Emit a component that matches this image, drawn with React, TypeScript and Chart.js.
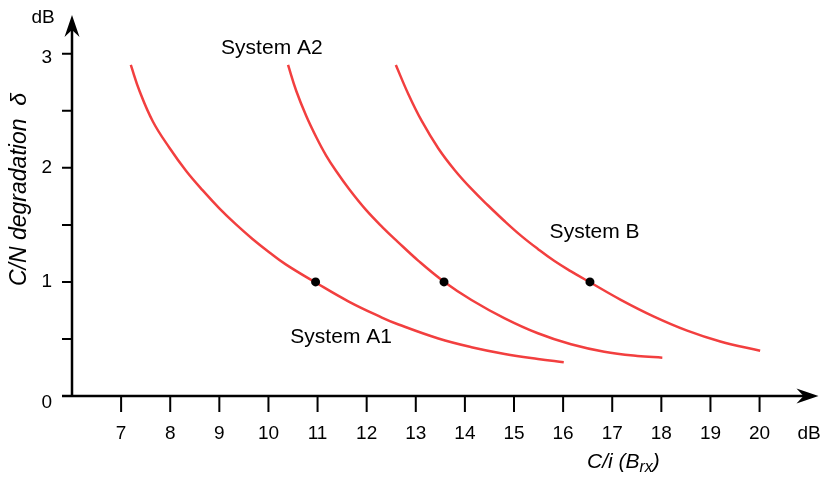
import { useEffect, useRef } from "react";
import { Chart, registerables } from "chart.js";

Chart.register(...registerables);

// Axis ticks
const xTickValues = [7, 8, 9, 10, 11, 12, 13, 14, 15, 16, 17, 18, 19, 20];
const yTickValues = [0, 1, 2, 3];
const yMinorTickValues = [0.5, 1.5, 2.5];

// C/N degradation curves (C/i in dB -> delta in dB)
const systemA1X = [7.197, 7.379, 7.649, 7.987, 8.325, 8.662, 9.0, 9.339, 9.675, 10.014, 10.352, 10.96, 11.635, 12.31, 12.649, 13.46, 14.134, 14.811, 15.486, 16.013];
const systemA1Y = [2.902, 2.669, 2.404, 2.174, 1.972, 1.802, 1.645, 1.504, 1.377, 1.261, 1.154, 0.995, 0.828, 0.688, 0.627, 0.504, 0.428, 0.369, 0.325, 0.296];

const systemA2X = [10.399, 10.567, 10.77, 10.972, 11.175, 11.378, 11.649, 11.986, 12.324, 12.628, 13.054, 13.575, 14.134, 14.811, 15.486, 16.161, 16.838, 17.513, 18.02];
const systemA2Y = [2.902, 2.674, 2.455, 2.271, 2.108, 1.972, 1.81, 1.631, 1.479, 1.354, 1.185, 1.002, 0.842, 0.681, 0.55, 0.453, 0.388, 0.351, 0.336];

const systemBX = [12.594, 12.852, 13.121, 13.46, 13.798, 14.134, 14.473, 14.811, 15.147, 15.486, 15.824, 16.161, 16.546, 17.174, 17.851, 18.526, 19.201, 20.012];
const systemBY = [2.902, 2.643, 2.411, 2.17, 1.977, 1.815, 1.67, 1.532, 1.404, 1.289, 1.183, 1.093, 0.997, 0.843, 0.696, 0.573, 0.478, 0.397];

// Operating points at 1 dB degradation
const markerX = [10.96, 13.575, 16.546];
const markerY = [1, 1, 1];

// Curve names and where they are written (data coordinates)
const curveNames = ["System A1", "System A2", "System B"];
const curveNameX = [11.48, 10.07, 16.64];
const curveNameY = [0.517, 3.053, 1.438];

const FONT = '"Liberation Sans", Arial, Helvetica, sans-serif';
const RED = "#f23f3f";

const toPoints = (xs: number[], ys: number[]) => xs.map((x, i) => ({ x, y: ys[i] }));

function drawArrowHead(ctx: CanvasRenderingContext2D, tx: number, ty: number, dir: "up" | "right") {
  const len = 22;
  const half = 7.5;
  const notch = 15;
  ctx.beginPath();
  if (dir === "up") {
    ctx.moveTo(tx, ty);
    ctx.lineTo(tx - half, ty + len);
    ctx.lineTo(tx, ty + notch);
    ctx.lineTo(tx + half, ty + len);
  } else {
    ctx.moveTo(tx, ty);
    ctx.lineTo(tx - len, ty - half);
    ctx.lineTo(tx - notch, ty);
    ctx.lineTo(tx - len, ty + half);
  }
  ctx.closePath();
  ctx.fill();
}

const axesPlugin = {
  id: "arrowAxes",
  afterDatasetsDraw(chart: any) {
    const ctx: CanvasRenderingContext2D = chart.ctx;
    const xs = chart.scales.x;
    const ys = chart.scales.y;
    const x0 = xs.getPixelForValue(6);
    const y0 = ys.getPixelForValue(0);
    const xEnd = chart.chartArea.right;
    const yEnd = chart.chartArea.top;

    ctx.save();
    ctx.strokeStyle = "#000";
    ctx.fillStyle = "#000";
    ctx.lineWidth = 2.5;
    ctx.lineCap = "butt";

    // axis lines
    ctx.beginPath();
    ctx.moveTo(x0 - 10, y0);
    ctx.lineTo(xEnd - 12, y0);
    ctx.moveTo(x0, y0);
    ctx.lineTo(x0, yEnd + 12);
    ctx.stroke();
    drawArrowHead(ctx, xEnd, y0, "right");
    drawArrowHead(ctx, x0, yEnd, "up");

    // ticks
    ctx.lineWidth = 2;
    ctx.beginPath();
    for (const v of [...yTickValues, ...yMinorTickValues]) {
      if (v === 0) continue;
      const py = ys.getPixelForValue(v);
      ctx.moveTo(x0 - 10, py);
      ctx.lineTo(x0, py);
    }
    for (const v of xTickValues) {
      const px = xs.getPixelForValue(v);
      ctx.moveTo(px, y0);
      ctx.lineTo(px, y0 + 16);
    }
    ctx.stroke();

    // tick labels
    ctx.font = `19px ${FONT}`;
    ctx.textBaseline = "middle";
    ctx.textAlign = "right";
    for (const v of yTickValues) {
      const dy = v === 0 ? 7 : v === 3 ? 4 : 0;
      ctx.fillText(String(v), 52, ys.getPixelForValue(v) + dy);
    }
    ctx.textAlign = "center";
    for (const v of xTickValues) {
      ctx.fillText(String(v), xs.getPixelForValue(v), 434);
    }

    // units
    ctx.fillText("dB", 43, 18);
    ctx.fillText("dB", 809, 434);

    // x axis title: C/i (B_rx)
    ctx.textAlign = "left";
    ctx.textBaseline = "alphabetic";
    ctx.font = `italic 21px ${FONT}`;
    let cx = 587;
    const base = 468;
    ctx.fillText("C/i (B", cx, base);
    cx += ctx.measureText("C/i (B").width;
    ctx.font = `italic 16px ${FONT}`;
    ctx.fillText("rx", cx, base + 4);
    cx += ctx.measureText("rx").width;
    ctx.font = `italic 21px ${FONT}`;
    ctx.fillText(")", cx, base);

    // y axis title
    ctx.save();
    ctx.translate(26, 286);
    ctx.rotate(-Math.PI / 2);
    ctx.font = `italic 23px ${FONT}`;
    ctx.fillText("C/N degradation  \u03b4", 0, 0);
    ctx.restore();

    // curve names
    ctx.font = `21px ${FONT}`;
    ctx.textAlign = "center";
    ctx.textBaseline = "middle";
    curveNames.forEach((name, i) => {
      ctx.fillText(name, xs.getPixelForValue(curveNameX[i]), ys.getPixelForValue(curveNameY[i]));
    });

    ctx.restore();
  },
};

export default function App() {
  const canvasRef = useRef<HTMLCanvasElement>(null);

  useEffect(() => {
    document.body.style.margin = "0";
    const canvas = canvasRef.current;
    if (!canvas) return;
    const curve = (data: { x: number; y: number }[]) => ({
      type: "line" as const,
      data,
      borderColor: RED,
      borderWidth: 2.5,
      pointRadius: 0,
      fill: false,
      tension: 0.4,
      showLine: true,
      order: 1,
    });
    const chart = new Chart(canvas, {
      type: "scatter",
      data: {
        datasets: [
          {
            type: "scatter",
            data: toPoints(markerX, markerY),
            pointRadius: 4.5,
            pointBackgroundColor: "#000",
            pointBorderWidth: 0,
            borderWidth: 0,
            order: 0,
          } as any,
          curve(toPoints(systemA1X, systemA1Y)),
          curve(toPoints(systemA2X, systemA2Y)),
          curve(toPoints(systemBX, systemBY)),
        ],
      },
      options: {
        responsive: false,
        animation: false,
        devicePixelRatio: 1,
        layout: { padding: { left: 72, right: 1, top: 15, bottom: 81 } },
        plugins: { legend: { display: false }, tooltip: { enabled: false }, title: { display: false } },
        events: [],
        scales: {
          x: { type: "linear", min: 6, max: 21.2, display: false },
          y: { type: "linear", min: 0, max: 3.34, display: false },
        },
      },
      plugins: [axesPlugin],
    });
    return () => chart.destroy();
  }, []);

  return (
    <div style={{ width: 823, height: 477, background: "#fff" }}>
      <canvas ref={canvasRef} width={823} height={477} style={{ display: "block" }} />
    </div>
  );
}
